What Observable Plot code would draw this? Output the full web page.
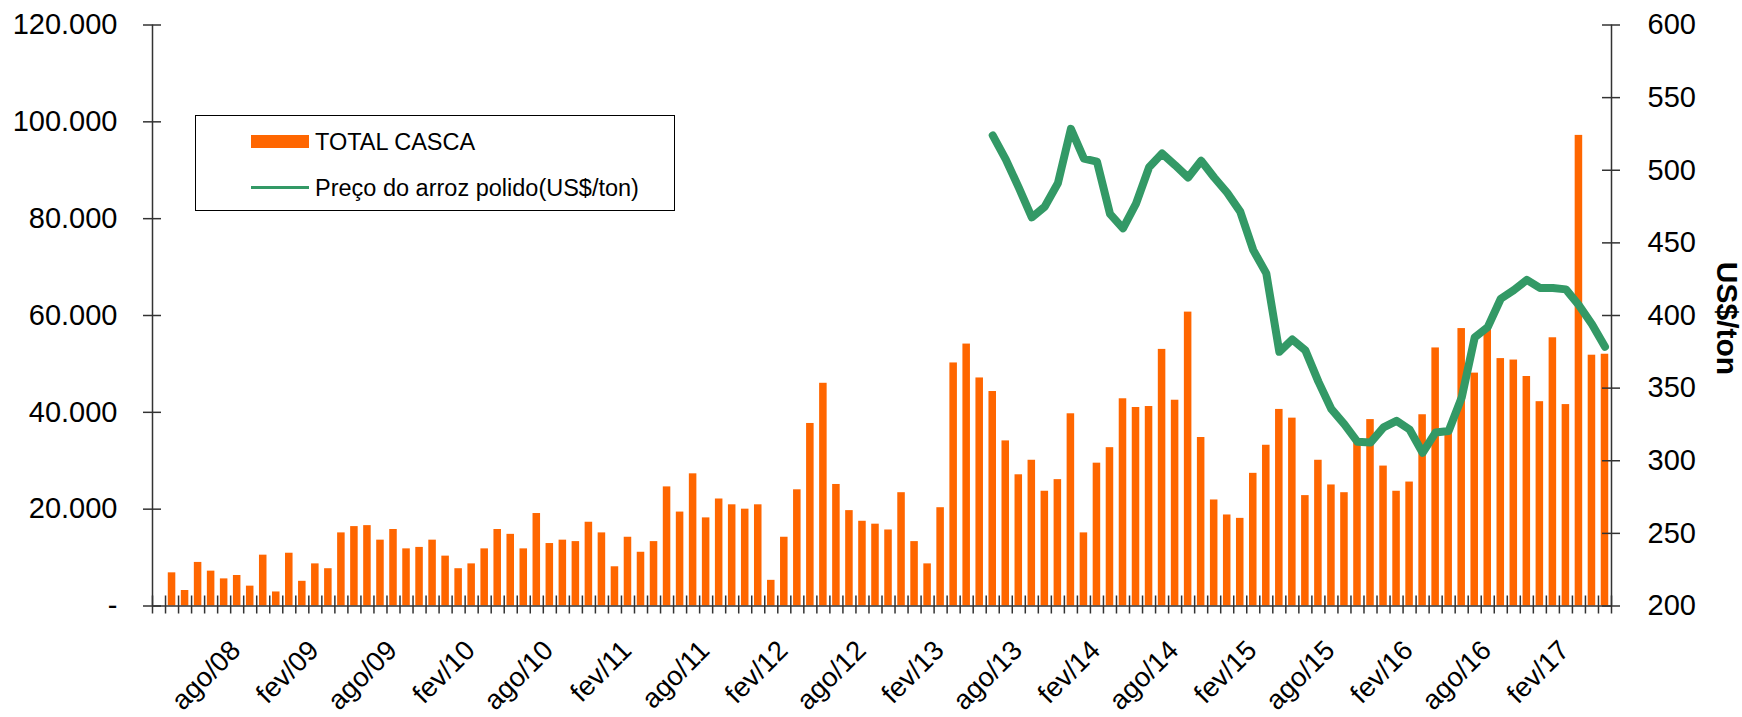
<!DOCTYPE html>
<html>
<head>
<meta charset="utf-8">
<script src="https://cdn.jsdelivr.net/npm/d3@7"></script>
<script src="https://cdn.jsdelivr.net/npm/@observablehq/plot@0.6"></script>
<style>
  html, body { margin: 0; padding: 0; background: #fff; }
  #wrap { position: relative; width: 1742px; height: 717px; font-family: "Liberation Sans", Arial, sans-serif; }
  #legend { position: absolute; left: 195px; top: 115px; width: 480px; height: 96px; border: 1.5px solid #000; box-sizing: border-box; background: #fff; }
  .sw-bar { position: absolute; left: 55px; top: 19px; width: 58px; height: 13px; background: #FF6600; }
  .sw-line { position: absolute; left: 55px; top: 70px; width: 58px; height: 3px; background: #339966; }
  .lt { position: absolute; left: 119px; font-size: 23.5px; line-height: 24px; color: #000; white-space: nowrap; }
</style>
</head>
<body>
<div id="wrap">
  <div id="chart"></div>
  <div id="legend">
    <div class="sw-bar"></div><div class="lt" style="top:14px">TOTAL CASCA</div>
    <div class="sw-line"></div><div class="lt" style="top:60px">Preço do arroz polido(US$/ton)</div>
  </div>
</div>
<script>
// Categories (monthly)
const months = [
  "fev/08","mar/08","abr/08","mai/08","jun/08","jul/08","ago/08","set/08","out/08","nov/08","dez/08",
  "jan/09","fev/09","mar/09","abr/09","mai/09","jun/09","jul/09","ago/09","set/09","out/09","nov/09","dez/09",
  "jan/10","fev/10","mar/10","abr/10","mai/10","jun/10","jul/10","ago/10","set/10","out/10","nov/10","dez/10",
  "jan/11","fev/11","mar/11","abr/11","mai/11","jun/11","jul/11","ago/11","set/11","out/11","nov/11","dez/11",
  "jan/12","fev/12","mar/12","abr/12","mai/12","jun/12","jul/12","ago/12","set/12","out/12","nov/12","dez/12",
  "jan/13","fev/13","mar/13","abr/13","mai/13","jun/13","jul/13","ago/13","set/13","out/13","nov/13","dez/13",
  "jan/14","fev/14","mar/14","abr/14","mai/14","jun/14","jul/14","ago/14","set/14","out/14","nov/14","dez/14",
  "jan/15","fev/15","mar/15","abr/15","mai/15","jun/15","jul/15","ago/15","set/15","out/15","nov/15","dez/15",
  "jan/16","fev/16","mar/16","abr/16","mai/16","jun/16","jul/16","ago/16","set/16","out/16","nov/16","dez/16",
  "jan/17","fev/17","mar/17","abr/17","mai/17"
];

// TOTAL CASCA (bars, left axis)
const totalCasca = [
  null, 6850, 3200, 9000, 7200, 5600, 6300, 4100, 10500, 2900, 10900,
  5100, 8700, 7700, 15100, 16400, 16600, 13600, 15800, 11800, 12100, 13600, 10300,
  7700, 8700, 11800, 15800, 14800, 11800, 19100, 12900, 13600, 13300, 17300, 15100,
  8100, 14200, 11100, 13300, 24600, 19400, 27300, 18200, 22100, 20900, 20000, 20900,
  5300, 14200, 24000, 37700, 46000, 25100, 19700, 17500, 16900, 15700, 23400, 13300,
  8700, 20300, 50200, 54100, 47100, 44300, 34100, 27100, 30100, 23700, 26100, 39700,
  15100, 29500, 32700, 42800, 41000, 41200, 53000, 42500, 60700, 34800, 21900, 18800,
  18100, 27400, 33200, 40600, 38800, 22800, 30100, 25000, 23400, 34000, 38500, 28900,
  23700, 25600, 39500, 53300, 36000, 57300, 48100, 57500, 51100, 50800, 47400, 42200,
  55400, 41600, 97200, 51800, 52000
];

// Preço do arroz polido (US$/ton), right axis, from jun/13
const precoInicio = "jun/13";
const preco = [
  524, 507.5, 488, 467.5, 475, 491, 528.5, 508, 506, 470, 460, 477,
  502, 511.5, 503.5, 495, 506.5, 495, 484.5, 471.5, 445, 429, 375, 383.5,
  376, 354.5, 335.5, 325, 313, 312.5, 323, 327.5, 321.5, 305.5, 319.5, 320.5,
  343.5, 385, 392, 411.5, 417.5, 424.5, 419, 419, 418, 407, 394, 378.5
];

const xLabels = ["ago/08","fev/09","ago/09","fev/10","ago/10","fev/11","ago/11","fev/12","ago/12",
                 "fev/13","ago/13","fev/14","ago/14","fev/15","ago/15","fev/16","ago/16","fev/17"];
const leftTicks = [0, 20000, 40000, 60000, 80000, 100000, 120000];
const rightTicks = [200, 250, 300, 350, 400, 450, 500, 550, 600];

const W = 1742, H = 717, ML = 152, MR = 131, MT = 24.5, MB = 111.5;
const FW = W - ML - MR, FH = H - MT - MB;
const step = FW / months.length;
const toLeft = p => (p - 200) * 300;
const fmtLeft = d => d === 0 ? "-" : d3.format(",")(d).replace(/,/g, ".");

const bars = months.map((m, i) => ({m, v: totalCasca[i]}));
const start = months.indexOf(precoInicio);
const line = preco.map((p, i) => ({m: months[start + i], p}));
const last = months[months.length - 1];
const axisColor = "#333";
const FS = 29;

const chart = Plot.plot({
  width: W, height: H,
  marginLeft: ML, marginRight: MR, marginTop: MT, marginBottom: MB,
  style: {fontFamily: "'Liberation Sans', Arial, sans-serif", fontSize: FS + "px", color: "#000", background: "#fff", overflow: "visible"},
  x: {type: "band", domain: months, padding: 0, round: false, axis: null},
  y: {domain: [0, 120000], axis: null},
  marks: [
    Plot.barY(bars, {x: "m", y: "v", fill: "#FF6600", insetLeft: 2.75, insetRight: 2.75}),
    Plot.ruleY([0], {stroke: axisColor, strokeWidth: 1.5}),
    Plot.ruleX([months[0]], {dx: -step / 2, stroke: axisColor, strokeWidth: 1.5}),
    Plot.ruleX([last], {dx: step / 2, stroke: axisColor, strokeWidth: 1.5}),
    Plot.tickX(months, {dx: -step / 2, insetTop: FH - 10, insetBottom: -8, stroke: axisColor, strokeWidth: 1.5}),
    Plot.tickX([last], {dx: step / 2, insetTop: FH - 10, insetBottom: -8, stroke: axisColor, strokeWidth: 1.5}),
    Plot.tickY(leftTicks, {y: d => d, insetLeft: -9, insetRight: FW - 9, stroke: axisColor, strokeWidth: 1.5}),
    Plot.tickY(rightTicks, {y: toLeft, insetLeft: FW - 9, insetRight: -9, stroke: axisColor, strokeWidth: 1.5}),
    Plot.text(leftTicks, {y: d => d, frameAnchor: "left", dx: -35, textAnchor: "end", text: fmtLeft, fontSize: FS, fill: "#000"}),
    Plot.text(rightTicks, {y: toLeft, frameAnchor: "right", dx: 36, textAnchor: "start", text: d => String(d), fontSize: FS, fill: "#000"}),
    Plot.text(xLabels, {x: d => d, frameAnchor: "bottom", dy: 46, dx: 5, rotate: -45, textAnchor: "end", lineAnchor: "bottom", fontSize: 27.5, fill: "#000"}),
    Plot.text(["US$/ton"], {frameAnchor: "right", dx: 115, dy: 3, rotate: 90, textAnchor: "middle", fontWeight: "bold", fontSize: 30, fill: "#000"}),
    Plot.line(line, {x: "m", y: d => toLeft(d.p), stroke: "#339966", strokeWidth: 8, strokeLinejoin: "round", strokeLinecap: "round"})
  ]
});
document.getElementById("chart").appendChild(chart);
</script>
</body>
</html>
